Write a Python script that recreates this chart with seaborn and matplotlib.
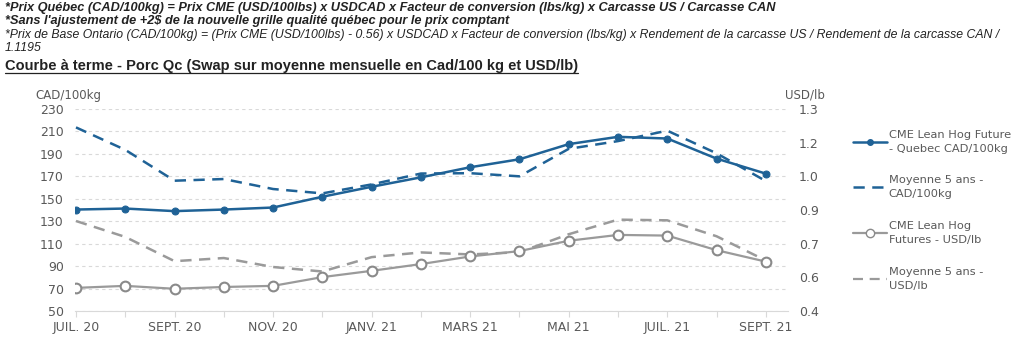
import matplotlib
matplotlib.use("Agg")
import matplotlib.pyplot as plt
from matplotlib.lines import Line2D
import seaborn as sns
import pandas as pd
import numpy as np

months = ["JUIL. 20", "AOÛT 20", "SEPT. 20", "OCT. 20", "NOV. 20", "DÉC. 20", "JANV. 21",
          "FÉVR. 21", "MARS 21", "AVR. 21", "MAI 21", "JUIN 21", "JUIL. 21", "AOÛT 21", "SEPT. 21"]
cme_qc_cad = [140.4, 141.3, 139.0, 140.4, 142.2, 151.8, 160.7, 169.1, 178.1, 185.2, 198.7, 205.2, 203.7, 185.8, 172.4]
avg5_cad = [213.6, 193.6, 166.1, 167.6, 158.7, 154.8, 162.8, 172.5, 172.8, 170.0, 194.5, 201.4, 210.7, 190.5, 165.8]
cme_usd = [0.503, 0.512, 0.499, 0.507, 0.512, 0.551, 0.579, 0.609, 0.643, 0.667, 0.713, 0.739, 0.736, 0.671, 0.620]
avg5_usd = [0.801, 0.730, 0.622, 0.636, 0.596, 0.576, 0.640, 0.661, 0.652, 0.662, 0.742, 0.807, 0.804, 0.733, 0.625]
left_ticks = [50, 70, 90, 110, 130, 150, 170, 190, 210, 230]
right_ticks = [0.4, 0.55, 0.7, 0.85, 1.0, 1.15, 1.3]
right_labels = ["0.4", "0.6", "0.7", "0.9", "1.0", "1.2", "1.3"]
legend_labels = ["CME Lean Hog Future\n- Quebec CAD/100kg", "Moyenne 5 ans -\nCAD/100kg",
                 "CME Lean Hog\nFutures - USD/lb", "Moyenne 5 ans -\nUSD/lb"]

BLUE = "#1F6296"
GRAY = "#9A9A9A"
TXT = "#595959"

sns.set_style("white")
plt.rcParams['font.family'] = ['DejaVu Sans']

df = pd.DataFrame({"x": np.arange(len(months)), "cme_qc": cme_qc_cad, "avg_cad": avg5_cad,
                   "cme_usd": cme_usd, "avg_usd": avg5_usd})

fig = plt.figure(figsize=(10.24, 3.41), dpi=100)
ax = fig.add_axes([75/1024, 1-311/341, (788-75)/1024, (311-109)/341])
ax2 = ax.twinx()

DASH = (0, (4.5, 3))
sns.lineplot(data=df, x="x", y="avg_cad", ax=ax, color=BLUE, lw=1.8, linestyle=DASH)
sns.lineplot(data=df, x="x", y="cme_qc", ax=ax, color=BLUE, lw=1.8, marker="o", markersize=5,
             markeredgecolor=BLUE, markerfacecolor=BLUE)
sns.lineplot(data=df, x="x", y="avg_usd", ax=ax2, color=GRAY, lw=1.8, linestyle=DASH)
sns.lineplot(data=df, x="x", y="cme_usd", ax=ax2, color=GRAY, lw=1.6, marker="o", markersize=7,
             markeredgecolor="#8A8A8A", markerfacecolor="white", markeredgewidth=1.5)

ax.set_xlim(-0.02, 14.45)
ax.set_ylim(50, 230)
ax2.set_ylim(0.4, 1.3)
ax.set_yticks(left_ticks)
ax.set_yticklabels([str(t) for t in left_ticks])
ax2.set_yticks(right_ticks)
ax2.set_yticklabels(right_labels)
ax.set_xticks(range(len(months)))
ax.set_xticklabels([m if i % 2 == 0 else "" for i, m in enumerate(months)])
ax.set_xlabel("")
ax.set_ylabel("")
ax2.set_ylabel("")

for a in (ax, ax2):
    for s in a.spines.values():
        s.set_visible(False)
ax.spines["bottom"].set_visible(True)
ax.spines["bottom"].set_color("#D9D9D9")
ax.yaxis.grid(True, color="#D9D9D9", linestyle=(0, (3, 3)), lw=0.8)
ax.set_axisbelow(True)
ax.tick_params(axis="y", length=0, labelsize=9, labelcolor=TXT, pad=8)
ax2.tick_params(axis="y", length=0, labelsize=9, labelcolor=TXT, pad=8)
ax.tick_params(axis="x", length=4, color="#D9D9D9", labelsize=9, labelcolor=TXT, pad=3, direction="out")
ax.tick_params(axis="x", bottom=True)

fig.text(35/1024, 1-95/341, "CAD/100kg", fontsize=8.5, color=TXT, va="center", ha="left")
fig.text(785/1024, 1-95/341, "USD/lb", fontsize=8.5, color=TXT, va="center", ha="left")

handles = [Line2D([], [], color=BLUE, lw=1.8, marker="o", markersize=4),
           Line2D([], [], color=BLUE, lw=1.8, linestyle=DASH),
           Line2D([], [], color=GRAY, lw=1.6, marker="o", markersize=6, markerfacecolor="white",
                  markeredgecolor="#8A8A8A"),
           Line2D([], [], color=GRAY, lw=1.6, linestyle=DASH)]
leg = fig.legend(handles, legend_labels, loc="upper left", bbox_to_anchor=(847/1024, 1-124/341),
                 frameon=False, fontsize=8.2, labelcolor=TXT, handlelength=3.0, handletextpad=0.15,
                 labelspacing=1.9, borderpad=0)
for t in leg.get_texts():
    t.set_linespacing(1.5)

hdr = dict(fontfamily="Liberation Sans", color="#222222", va="center", ha="left")
fig.text(5/1024, 1-8/341, "*Prix Québec (CAD/100kg) = Prix CME (USD/100lbs) x USDCAD x Facteur de conversion (lbs/kg) x Carcasse US / Carcasse CAN",
         fontweight="bold", fontstyle="italic", fontsize=9.2, **hdr)
fig.text(5/1024, 1-21/341, "*Sans l'ajustement de +2$ de la nouvelle grille qualité québec pour le prix comptant",
         fontweight="bold", fontstyle="italic", fontsize=9.2, **hdr)
fig.text(5/1024, 1-35/341, "*Prix de Base Ontario (CAD/100kg) = (Prix CME (USD/100lbs) - 0.56) x USDCAD x Facteur de conversion (lbs/kg) x Rendement de la carcasse US / Rendement de la carcasse CAN /",
         fontstyle="italic", fontsize=8.8, **hdr)
fig.text(5/1024, 1-48/341, "1.1195", fontstyle="italic", fontsize=8.8, **hdr)
title = fig.text(5/1024, 1-66/341, "Courbe à terme - Porc Qc (Swap sur moyenne mensuelle en Cad/100 kg et USD/lb)",
                 fontfamily="Liberation Sans", fontsize=10.5, fontweight="bold", color="#222222",
                 va="center", ha="left")
fig.canvas.draw()
bb = title.get_window_extent(fig.canvas.get_renderer())
fig.add_artist(Line2D([bb.x0 / 1024, bb.x1 / 1024], [(bb.y0 + 0.5) / 341, (bb.y0 + 0.5) / 341],
                      color="#222222", lw=0.9, transform=fig.transFigure))

fig.savefig("out.png", dpi=100, facecolor="white")
